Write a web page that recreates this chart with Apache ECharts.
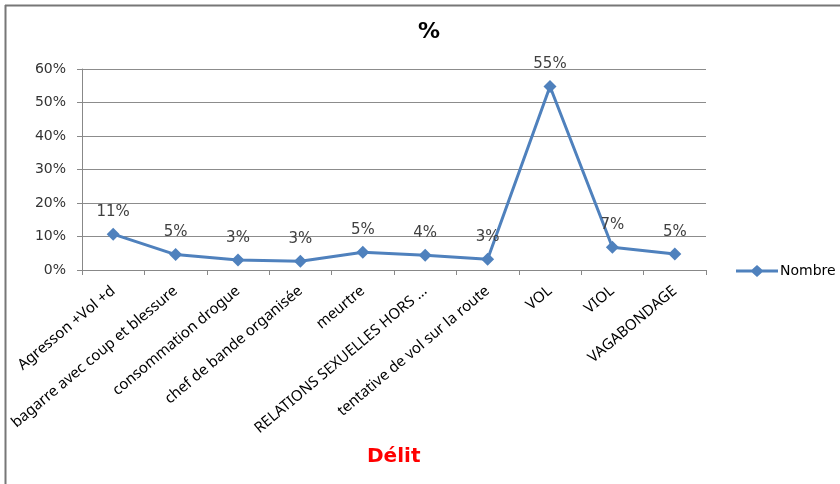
<!DOCTYPE html>
<html>
<head>
<meta charset="utf-8">
<script src="https://cdn.jsdelivr.net/npm/echarts@6/dist/echarts.min.js"></script>
<style>
  html, body { margin: 0; padding: 0; background: #fff; }
  #chart { width: 840px; height: 484px; }
</style>
</head>
<body>
<div id="chart"></div>
<script>
// catégories de délits
var categories = [
  'Agresson +Vol +d',
  'bagarre avec coup et blessure',
  'consommation drogue',
  'chef de bande organisée',
  'meurtre',
  'RELATIONS SEXUELLES HORS ...',
  'tentative de vol sur la route',
  'VOL',
  'VIOL',
  'VAGABONDAGE'
];
// pourcentages
var values = [10.7, 4.6, 3.0, 2.6, 5.3, 4.4, 3.2, 54.8, 6.8, 4.8];
var yTicks = [0, 10, 20, 30, 40, 50, 60];

var myChart = echarts.init(document.getElementById('chart'));
var blue = '#4f81bd';
var option = {
  animation: false,
  title: {
    text: '%',
    left: 424,
    top: 16,
    textAlign: 'center',
    textStyle: { fontFamily: 'DejaVu Sans', fontSize: 22, fontWeight: 'bold', color: '#000' }
  },
  legend: {
    left: 731,
    top: 259,
    itemWidth: 42,
    itemHeight: 12,
    itemGap: 2,
    textStyle: { fontFamily: 'DejaVu Sans', fontSize: 14, color: '#000', padding: [0, 0, 0, -3] },
    data: [{ name: 'Nombre', icon: 'path://M0,4.5 L16,4.5 L21,0 L26,4.5 L42,4.5 L42,7.5 L26,7.5 L21,12 L16,7.5 L0,7.5 Z' }]
  },
  grid: { left: 82, right: 134, top: 69, bottom: 214 },
  xAxis: {
    type: 'category',
    data: categories,
    boundaryGap: true,
    axisLine: { lineStyle: { color: '#888', width: 1 } },
    axisTick: { show: true, length: 5, lineStyle: { color: '#888' } },
    axisLabel: {
      rotate: 40,
      margin: 19,
      interval: 0,
      fontFamily: 'Noto Sans',
      fontSize: 15,
      color: '#000'
    }
  },
  yAxis: {
    type: 'value',
    min: 0,
    max: 60,
    interval: 10,
    axisLine: { show: true, lineStyle: { color: '#888', width: 1 } },
    axisTick: { show: true, length: 5, lineStyle: { color: '#888' } },
    axisLabel: {
      margin: 16,
      fontFamily: 'DejaVu Sans',
      fontSize: 14,
      color: '#333',
      formatter: function (v) { return yTicks.indexOf(v) >= 0 ? v + '%' : ''; }
    },
    splitLine: { lineStyle: { color: '#8c8c8c', width: 1 } }
  },
  series: [{
    name: 'Nombre',
    type: 'line',
    data: values,
    symbol: 'diamond',
    symbolSize: 13,
    lineStyle: { color: blue, width: 3 },
    itemStyle: { color: blue },
    label: {
      show: true,
      position: 'top',
      distance: 8,
      fontFamily: 'DejaVu Sans',
      fontSize: 15,
      color: '#404040',
      formatter: function (p) { return Math.round(p.value) + '%'; }
    }
  }],
  graphic: [
    { type: 'line', shape: { x1: 5, y1: 5.5, x2: 840, y2: 5.5 }, style: { stroke: '#777', lineWidth: 2 } },
    { type: 'line', shape: { x1: 5.5, y1: 5, x2: 5.5, y2: 484 }, style: { stroke: '#777', lineWidth: 2 } },
    {
      type: 'text',
      left: 367,
      top: 447,
      style: { text: 'Délit', fontFamily: 'DejaVu Sans', fontSize: 20, fontWeight: 'bold', fill: '#ff0000' }
    }
  ]
};
myChart.setOption(option);
</script>
</body>
</html>
